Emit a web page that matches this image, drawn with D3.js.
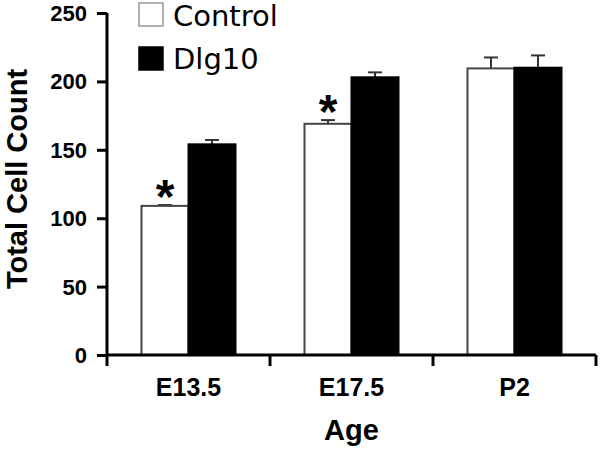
<!DOCTYPE html>
<html>
<head>
<meta charset="utf-8">
<script src="https://cdn.jsdelivr.net/npm/d3@7"></script>
<style>
  html, body { margin: 0; padding: 0; background: #fff; }
  svg { display: block; }
</style>
</head>
<body>
<svg id="chart" width="600" height="449"></svg>
<script>
// ---- data ----
const categories = ["E13.5", "E17.5", "P2"];
const seriesNames = ["Control", "Dlg10"];
const controlValues = [109, 169, 209.5];
const controlErrors = [0.6, 2.7, 8];
const dlg10Values = [154, 203, 210];
const dlg10Errors = [3.2, 3.6, 9];
const significant = [true, true, false]; // asterisk over Control bar
const yTicks = [0, 50, 100, 150, 200, 250];
const xTitle = "Age";
const yTitle = "Total Cell Count";

const svg = d3.select("#chart");
const margin = { left: 107, right: 4, top: 13, bottom: 94 };
const W = 600, H = 449;

const x = d3.scaleBand().domain(categories).range([margin.left, W - margin.right]).paddingInner(0).paddingOuter(0);
const xSub = d3.scaleBand().domain(seriesNames).range([0, x.bandwidth()]).paddingInner(0).paddingOuter(0.734);
const y = d3.scaleLinear().domain([0, 250]).range([H - margin.bottom, margin.top]);

const series = [
  { name: "Control", values: controlValues, errors: controlErrors, fill: "#fff", stroke: "#444" },
  { name: "Dlg10", values: dlg10Values, errors: dlg10Errors, fill: "#000", stroke: "#000" }
];

const rows = [];
series.forEach(s => categories.forEach((c, i) => rows.push({ cat: c, name: s.name, v: s.values[i], e: s.errors[i], fill: s.fill, stroke: s.stroke })));

// error bars
const eb = svg.append("g");
rows.forEach(r => {
  const cx = x(r.cat) + xSub(r.name) + xSub.bandwidth() / 2;
  eb.append("line").attr("x1", cx).attr("x2", cx).attr("y1", y(r.v)).attr("y2", y(r.v + r.e))
    .attr("stroke", "#333").attr("stroke-width", 2);
  eb.append("line").attr("x1", cx - 7).attr("x2", cx + 7).attr("y1", y(r.v + r.e)).attr("y2", y(r.v + r.e))
    .attr("stroke", "#333").attr("stroke-width", 2);
});

// bars
svg.append("g").selectAll("rect").data(rows).join("rect")
  .attr("x", d => x(d.cat) + xSub(d.name))
  .attr("y", d => y(d.v))
  .attr("width", xSub.bandwidth())
  .attr("height", d => y(0) - y(d.v))
  .attr("fill", d => d.fill)
  .attr("stroke", d => d.stroke)
  .attr("stroke-width", 2);

// asterisks
categories.forEach((c, i) => {
  if (!significant[i]) return;
  const cx = x(c) + xSub("Control") + xSub.bandwidth() / 2;
  svg.append("text").attr("x", cx).attr("y", y(controlValues[i] + controlErrors[i]) + 8)
    .attr("text-anchor", "middle")
    .attr("font-family", "Liberation Sans, Arial, sans-serif").attr("font-weight", "bold")
    .attr("font-size", 48).attr("fill", "#000").text("*");
});

// y axis
const yAxis = svg.append("g").attr("transform", `translate(${margin.left},0)`)
  .call(d3.axisLeft(y).tickValues(yTicks).tickSize(10).tickPadding(10).tickFormat(d3.format("d")));
yAxis.select(".domain").attr("stroke", "#000").attr("stroke-width", 3).attr("d", `M0,${y(250)}V${y(0) + 11}`);
yAxis.selectAll(".tick line").attr("stroke", "#000").attr("stroke-width", 3);
yAxis.selectAll(".tick text").attr("font-family", "Liberation Sans, Arial, sans-serif")
  .attr("font-weight", "bold").attr("font-size", 22).attr("fill", "#000").attr("dy", "0.34em");

// x axis
const xAxis = svg.append("g").attr("transform", `translate(0,${y(0)})`)
  .call(d3.axisBottom(x).tickSize(0).tickPadding(23));
xAxis.select(".domain").attr("stroke", "#000").attr("stroke-width", 3).attr("d", `M${margin.left},0H${W - margin.right}`);
xAxis.selectAll(".tick text").attr("font-family", "Liberation Sans, Arial, sans-serif")
  .attr("font-weight", "bold").attr("font-size", 25).attr("fill", "#000");
categories.forEach(c => {
  const bx = x(c) + x.bandwidth();
  xAxis.append("line").attr("x1", bx).attr("x2", bx).attr("y1", 0).attr("y2", 11)
    .attr("stroke", "#000").attr("stroke-width", 3);
});

// axis titles
svg.append("text").attr("x", (x.range()[0] + x.range()[1]) / 2).attr("y", 440)
  .attr("text-anchor", "middle").attr("font-family", "Liberation Sans, Arial, sans-serif")
  .attr("font-weight", "bold").attr("font-size", 29).attr("fill", "#000").text(xTitle);
svg.append("text").attr("transform", `translate(27,179) rotate(-90)`)
  .attr("text-anchor", "middle").attr("font-family", "Liberation Sans, Arial, sans-serif")
  .attr("font-weight", "bold").attr("font-size", 29).attr("fill", "#000").text(yTitle);

// legend
const legend = svg.append("g");
const legendItems = [
  { name: "Control", fill: "#fff", stroke: "#999", y: 3, base: 26 },
  { name: "Dlg10", fill: "#000", stroke: "#000", y: 47, base: 69 }
];
legendItems.forEach(l => {
  legend.append("rect").attr("x", 139).attr("y", l.y).attr("width", 24).attr("height", 23)
    .attr("fill", l.fill).attr("stroke", l.stroke).attr("stroke-width", 1.5);
  legend.append("text").attr("x", 173).attr("y", l.base)
    .attr("font-family", "DejaVu Sans, Verdana, sans-serif").attr("font-size", 29)
    .attr("fill", "#000").text(l.name);
});
</script>
</body>
</html>
